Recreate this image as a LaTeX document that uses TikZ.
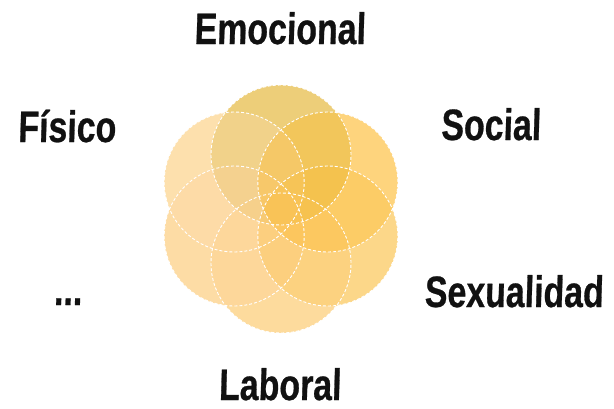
\documentclass[tikz,border=0pt]{standalone}
\usepackage{fontspec}
\usetikzlibrary{calc}
\newfontfamily\markfont[FakeStretch=0.77,FakeSlant=0.03,FakeBold=0.6]{Liberation Sans}
\definecolor{cBase}{RGB}{254,226,170}
\definecolor{cTop}{RGB}{200,160,10}
\definecolor{cUR}{RGB}{255,180,23}
\definecolor{cLR}{RGB}{250,190,63}
\definecolor{cBot}{RGB}{253,206,130}
\definecolor{cLL}{RGB}{253,208,155}
\definecolor{cUL}{RGB}{253,222,180}
\definecolor{ink}{RGB}{17,17,17}
\tikzset{
  petal/.style={circle, minimum size=140pt, inner sep=0pt, fill opacity=0.3},
  rim/.style={draw=white, dash pattern=on 3pt off 2pt, line width=0.9pt},
  lbl/.style={font=\markfont\bfseries\fontsize{44}{48}\selectfont, text=ink, anchor=base, inner sep=0pt}
}
\begin{document}
\begin{tikzpicture}[x=1pt,y=-1pt]
\useasboundingbox (0,0) rectangle (614,408);
\coordinate (c) at (281,209);
\foreach \a in {90,150,210,270,330,30}
  \fill[cBase] ($(c)+(\a:54)$) circle[radius=70pt];
\node[petal, fill=cTop] (top) at ($(c)+(0,-54)$) {};
\node[petal, fill=cUL]  (ul)  at ($(c)+(-46.8,-27)$) {};
\node[petal, fill=cLL]  (ll)  at ($(c)+(-46.8,27)$) {};
\node[petal, fill=cBot] (bot) at ($(c)+(0,54)$) {};
\node[petal, fill=cLR]  (lr)  at ($(c)+(46.8,27)$) {};
\node[petal, fill=cUR]  (ur)  at ($(c)+(46.8,-27)$) {};
\foreach \n in {top,ul,ll,bot,lr,ur}
  \draw[rim] (\n.center) circle[radius=70pt];
\node[lbl] (emo) at (280,44) {Emocional};
\node[lbl] (fis) at (67,142) {Físico};
\node[lbl] (soc) at (491,140) {Social};
\node[lbl] (sex) at (514,307) {Sexualidad};
\node[lbl] (lab) at (280,400) {Laboral};
\node[lbl] (dots) at (68,305) {...};
\end{tikzpicture}
\end{document}
